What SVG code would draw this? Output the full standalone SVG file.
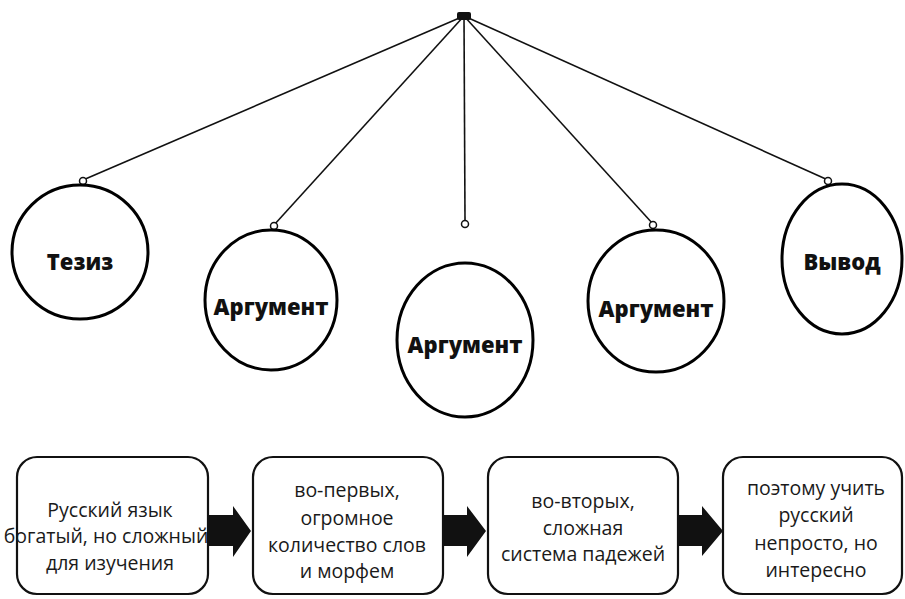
<svg xmlns="http://www.w3.org/2000/svg" width="905" height="599" viewBox="0 0 905 599">
<style>
.bg{fill:#fff}
.node{fill:#fff;stroke:#000;stroke-width:3}
.lbl{font-family:"Open Sans","Liberation Sans",sans-serif;font-weight:800;font-size:22px;fill:#111;text-anchor:middle}
.box{fill:#fff;stroke:#111;stroke-width:2.2}
.txt{font-family:"Open Sans","Liberation Sans",sans-serif;font-size:19.5px;fill:#1a1a1a;text-anchor:middle}
.con{stroke:#111;stroke-width:1.6;fill:none}
.pin{fill:#fff;stroke:#111;stroke-width:1.5}
.arr{fill:#111}
</style>
<rect class="bg" width="905" height="599"/>
<g id="connectors">
<line class="con" x1="464" y1="16" x2="83" y2="180"/>
<line class="con" x1="464" y1="16" x2="274" y2="225"/>
<line class="con" x1="464" y1="16" x2="465" y2="220"/>
<line class="con" x1="464" y1="16" x2="653" y2="224"/>
<line class="con" x1="464" y1="16" x2="828" y2="180"/>
<rect x="457" y="12" width="14" height="8" rx="2" fill="#111"/>
<circle class="pin" cx="83" cy="181" r="3.5"/>
<circle class="pin" cx="274" cy="226" r="3.5"/>
<circle class="pin" cx="465" cy="224" r="3.5"/>
<circle class="pin" cx="653" cy="225" r="3.5"/>
<circle class="pin" cx="828" cy="181" r="3.5"/>
<polygon class="arr" points="208,515 233,515 233,506 251,531 233,557 233,546 208,546"/>
<polygon class="arr" points="443,515 467,515 467,506 486,531 467,557 467,546 443,546"/>
<polygon class="arr" points="678,515 702,515 702,506 723,531 702,556 702,546 678,546"/>
</g>
<g id="n-tezis">
<ellipse class="node" cx="80" cy="252" rx="68" ry="67"/>
<text class="lbl" x="80" y="270">Тезиз</text>
</g>
<g id="n-arg1">
<ellipse class="node" cx="271" cy="300" rx="66" ry="70"/>
<text class="lbl" x="271" y="315">Аргумент</text>
</g>
<g id="n-arg2">
<ellipse class="node" cx="465" cy="340" rx="68" ry="77"/>
<text class="lbl" x="465" y="353">Аргумент</text>
</g>
<g id="n-arg3">
<ellipse class="node" cx="656" cy="301" rx="68" ry="71"/>
<text class="lbl" x="656" y="317">Аргумент</text>
</g>
<g id="n-vyvod">
<ellipse class="node" cx="842" cy="259" rx="60" ry="75"/>
<text class="lbl" x="842" y="270">Вывод</text>
</g>
<g id="b1">
<rect class="box" x="17" y="457" width="191" height="137" rx="20"/>
<text class="txt" x="110" y="517">Русский язык</text>
<text class="txt" x="106" y="543">богатый, но сложный</text>
<text class="txt" x="110" y="570">для изучения</text>
</g>
<g id="b2">
<rect class="box" x="253" y="457" width="190" height="137" rx="20"/>
<text class="txt" x="347" y="497">во-первых,</text>
<text class="txt" x="347" y="525">огромное</text>
<text class="txt" x="347" y="552">количество слов</text>
<text class="txt" x="347" y="578">и морфем</text>
</g>
<g id="b3">
<rect class="box" x="488" y="457" width="190" height="137" rx="20"/>
<text class="txt" x="583" y="508">во-вторых,</text>
<text class="txt" x="583" y="535">сложная</text>
<text class="txt" x="583" y="561">система падежей</text>
</g>
<g id="b4">
<rect class="box" x="723" y="457" width="179" height="137" rx="20"/>
<text class="txt" x="816" y="495">поэтому учить</text>
<text class="txt" x="816" y="522">русский</text>
<text class="txt" x="816" y="550">непросто, но</text>
<text class="txt" x="816" y="577">интересно</text>
</g>
</svg>
